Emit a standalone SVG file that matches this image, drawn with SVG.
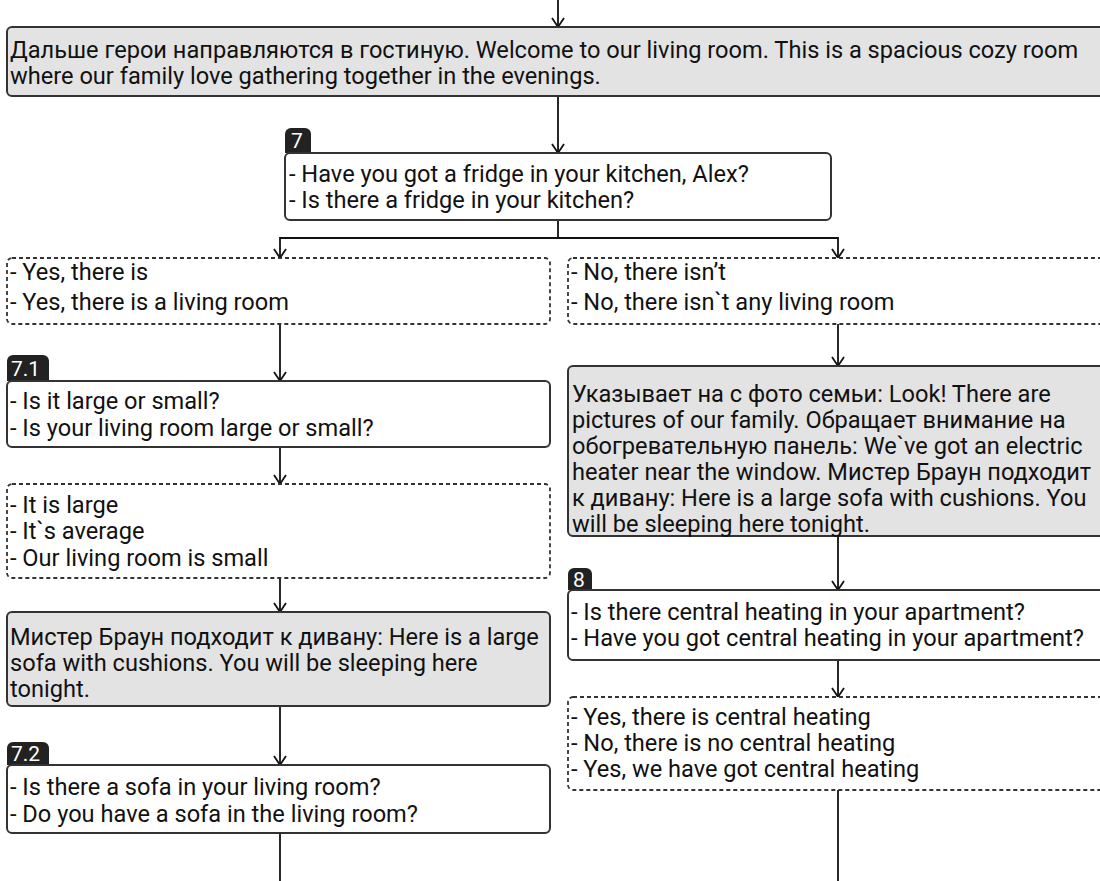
<svg xmlns="http://www.w3.org/2000/svg" width="1100" height="881" viewBox="0 0 1100 881">
<defs>
<marker id="arr" viewBox="-11 -7 13 14" refX="0" refY="0" markerWidth="13" markerHeight="14" markerUnits="userSpaceOnUse" orient="auto" overflow="visible">
<path d="M-9,-6 L0,0 L-9,6" fill="none" stroke="#111" stroke-width="1.8"/>
</marker>
<style>
.box{fill:#fff;stroke:#333;stroke-width:2}
.gray{fill:#e3e3e3;stroke:#333;stroke-width:2}
.dash{fill:#fff;stroke:#333;stroke-width:1.8;stroke-dasharray:4 3}
.tab{fill:#222}
text.tabt{fill:#fff;font-size:21px}
text{font-family:Roboto,"Noto Sans",sans-serif;font-size:23.6px;fill:#111}
.ln{fill:none;stroke:#111;stroke-width:1.8}
</style>
</defs>
<rect width="1100" height="881" fill="#fff"/>
<g id="connectors">
<path class="ln" d="M558,0 V27" marker-end="url(#arr)"/>
<path class="ln" d="M558,96 V153" marker-end="url(#arr)"/>
<path class="ln" d="M558,220 V238 H280 V258" marker-end="url(#arr)"/>
<path class="ln" d="M558,238 H838 V258" marker-end="url(#arr)"/>
<path class="ln" d="M280,324 V381" marker-end="url(#arr)"/>
<path class="ln" d="M280,447 V484" marker-end="url(#arr)"/>
<path class="ln" d="M280,578 V612" marker-end="url(#arr)"/>
<path class="ln" d="M280,706 V765" marker-end="url(#arr)"/>
<path class="ln" d="M280,833 V881"/>
<path class="ln" d="M838,324 V366" marker-end="url(#arr)"/>
<path class="ln" d="M838,536 V590" marker-end="url(#arr)"/>
<path class="ln" d="M838,660 V697" marker-end="url(#arr)"/>
<path class="ln" d="M838,790 V881"/>
</g>
<g id="intro">
<rect class="gray" x="7" y="27" width="1101" height="69" rx="5"/>
<text x="10" y="58">Дальше герои направляются в гостиную. Welcome to our living room. This is a spacious cozy room</text>
<text x="10" y="84">where our family love gathering together in the evenings.</text>
</g>
<g id="q7">
<path class="tab" d="M285,153 V134 a6,6 0 0 1 6,-6 H305 a6,6 0 0 1 6,6 V153 Z"/>
<text class="tabt" x="291" y="148">7</text>
<rect class="box" x="285" y="153" width="546" height="67" rx="5"/>
<text x="289" y="182">- Have you got a fridge in your kitchen, Alex?</text>
<text x="289" y="208">- Is there a fridge in your kitchen?</text>
</g>
<g id="a7yes">
<rect class="dash" x="7" y="258" width="543" height="66" rx="5"/>
<text x="10" y="280">- Yes, there is</text>
<text x="10" y="310">- Yes, there is a living room</text>
</g>
<g id="a7no">
<rect class="dash" x="568" y="258" width="540" height="66" rx="5"/>
<text x="571" y="280">- No, there isn’t</text>
<text x="571" y="310">- No, there isn`t any living room</text>
</g>
<g id="q71">
<path class="tab" d="M7,381 V361 a6,6 0 0 1 6,-6 H43 a6,6 0 0 1 6,6 V381 Z"/>
<text class="tabt" x="11" y="376">7.1</text>
<rect class="box" x="7" y="381" width="543" height="66" rx="5"/>
<text x="10" y="409">- Is it large or small?</text>
<text x="10" y="436">- Is your living room large or small?</text>
</g>
<g id="a71">
<rect class="dash" x="7" y="484" width="543" height="94" rx="5"/>
<text x="10" y="513">- It is large</text>
<text x="10" y="539">- It`s average</text>
<text x="10" y="566">- Our living room is small</text>
</g>
<g id="sofaL">
<rect class="gray" x="7" y="612" width="543" height="94" rx="5"/>
<text x="10" y="645">Мистер Браун подходит к дивану: Here is a large</text>
<text x="10" y="671">sofa with cushions. You will be sleeping here</text>
<text x="10" y="697">tonight.</text>
</g>
<g id="q72">
<path class="tab" d="M7,765 V748 a6,6 0 0 1 6,-6 H43 a6,6 0 0 1 6,6 V765 Z"/>
<text class="tabt" x="11" y="761">7.2</text>
<rect class="box" x="7" y="765" width="543" height="68" rx="5"/>
<text x="10" y="795">- Is there a sofa in your living room?</text>
<text x="10" y="822">- Do you have a sofa in the living room?</text>
</g>
<g id="photosR">
<rect class="gray" x="568" y="366" width="540" height="170" rx="5"/>
<text x="572" y="402">Указывает на с фото семьи: Look! There are</text>
<text x="572" y="428">pictures of our family. Обращает внимание на</text>
<text x="572" y="454">обогревательную панель: We`ve got an electric</text>
<text x="572" y="480">heater near the window. Мистер Браун подходит</text>
<text x="572" y="506">к дивану: Here is a large sofa with cushions. You</text>
<text x="572" y="532">will be sleeping here tonight.</text>
</g>
<g id="q8">
<path class="tab" d="M568,590 V574 a6,6 0 0 1 6,-6 H586 a6,6 0 0 1 6,6 V590 Z"/>
<text class="tabt" x="573" y="587">8</text>
<rect class="box" x="568" y="590" width="540" height="70" rx="5"/>
<text x="571" y="620">- Is there central heating in your apartment?</text>
<text x="571" y="646">- Have you got central heating in your apartment?</text>
</g>
<g id="a8">
<rect class="dash" x="568" y="697" width="540" height="93" rx="5"/>
<text x="571" y="725">- Yes, there is central heating</text>
<text x="571" y="751">- No, there is no central heating</text>
<text x="571" y="777">- Yes, we have got central heating</text>
</g>
</svg>
